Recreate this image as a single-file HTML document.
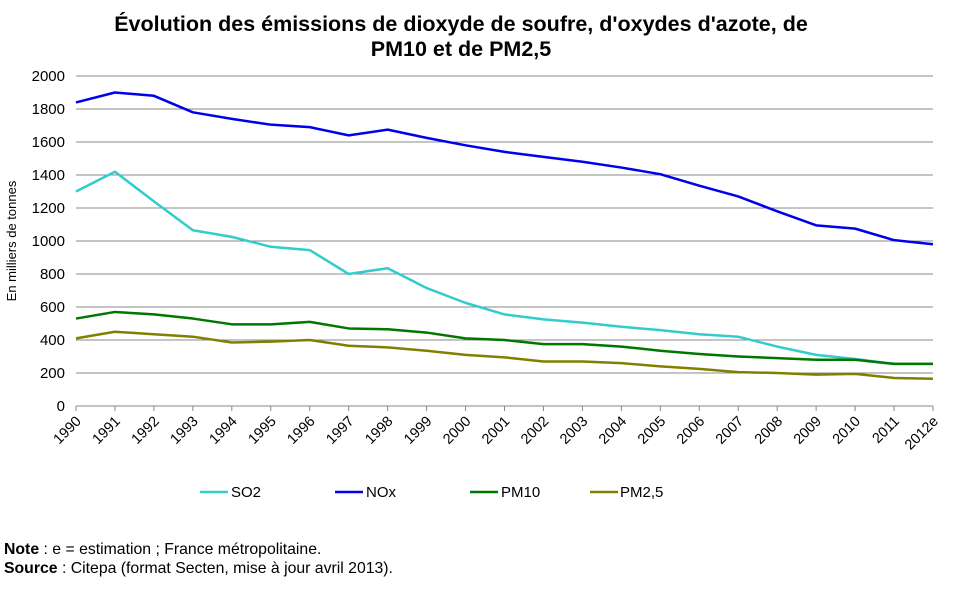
<!DOCTYPE html>
<html><head><meta charset="utf-8"><style>
body{margin:0;background:#fff;font-family:"Liberation Sans",sans-serif;}
</style></head><body>
<svg width="958" height="590" viewBox="0 0 958 590" xmlns="http://www.w3.org/2000/svg" font-family="Liberation Sans, sans-serif">
<text x="461" y="31" text-anchor="middle" font-size="21.5" font-weight="bold">Évolution des émissions de dioxyde de soufre, d'oxydes d'azote, de</text>
<text x="461" y="56" text-anchor="middle" font-size="21.5" font-weight="bold">PM10 et de PM2,5</text>
<text transform="translate(16,241) rotate(-90)" text-anchor="middle" font-size="13">En milliers de tonnes</text>
<g id="grid"></g><g id="axes"></g><g id="series"></g>
<g font-size="15">
<line x1="200" y1="492" x2="228" y2="492" stroke="#33cccc" stroke-width="2.5"/><text x="231" y="497">SO2</text>
<line x1="335" y1="492" x2="363" y2="492" stroke="#0000ee" stroke-width="2.5"/><text x="366" y="497">NOx</text>
<line x1="470" y1="492" x2="498" y2="492" stroke="#007700" stroke-width="2.5"/><text x="501" y="497">PM10</text>
<line x1="590" y1="492" x2="618" y2="492" stroke="#808000" stroke-width="2.5"/><text x="620" y="497">PM2,5</text>
</g>
<text x="4" y="554" font-size="15.8"><tspan font-weight="bold">Note</tspan> : e = estimation ; France métropolitaine.</text>
<text x="4" y="573" font-size="15.8"><tspan font-weight="bold">Source</tspan> : Citepa (format Secten, mise à jour avril 2013).</text>
</svg>
<script>
const categories=["1990","1991","1992","1993","1994","1995","1996","1997","1998","1999","2000","2001","2002","2003","2004","2005","2006","2007","2008","2009","2010","2011","2012e"];
const so2=[1300,1420,1240,1065,1025,965,945,800,835,715,625,555,525,505,480,460,435,420,360,310,285,255,255];
const nox=[1840,1900,1880,1780,1740,1705,1690,1640,1675,1625,1580,1540,1510,1480,1445,1405,1335,1270,1180,1095,1075,1005,980];
const pm10=[530,570,555,530,495,495,510,470,465,445,410,400,375,375,360,335,315,300,290,280,280,255,255];
const pm25=[410,450,435,420,385,390,400,365,355,335,310,295,270,270,260,240,225,205,200,190,195,170,165];
const yTicks=[0,200,400,600,800,1000,1200,1400,1600,1800,2000];
const NS="http://www.w3.org/2000/svg";
const x0=76,x1=933,y0=406,y1=76;
const xs=i=>x0+i*(x1-x0)/(categories.length-1);
const ys=v=>y0-(v/2000)*(y0-y1);
function mk(t,a,p){const e=document.createElementNS(NS,t);for(const k in a)e.setAttribute(k,a[k]);p.appendChild(e);return e;}
const grid=document.getElementById('grid'),axes=document.getElementById('axes'),ser=document.getElementById('series');
yTicks.forEach(v=>{
 if(v>0){const g=mk('line',{x1:x0,x2:x1,y1:ys(v),y2:ys(v),stroke:'#888','stroke-width':1},grid);
 
 }
 const t=mk('text',{x:65,y:ys(v)+5,'text-anchor':'end','font-size':15},axes);t.textContent=v;
 
 
});
const ax=mk('line',{x1:x0,x2:x1,y1:y0,y2:y0,stroke:'#888','stroke-width':1},axes);


categories.forEach((c,i)=>{
 mk('line',{x1:xs(i),x2:xs(i),y1:y0,y2:y0+5,stroke:'#888'},axes);
 const t=mk('text',{transform:`translate(${xs(i)+6},${y0+16}) rotate(-45)`,'text-anchor':'end','font-size':14.5},axes);t.textContent=c;
 
 
});
[[so2,'#33cccc','so2-line'],[nox,'#0000ee','nox-line'],[pm10,'#007700','pm10-line'],[pm25,'#808000','pm25-line']].forEach(([d,c,n])=>{
 const p=mk('polyline',{points:d.map((v,i)=>xs(i)+','+ys(v)).join(' '),fill:'none',stroke:c,'stroke-width':2.5,'stroke-linejoin':'round'},ser);
 
 
});
</script>
</body></html>
